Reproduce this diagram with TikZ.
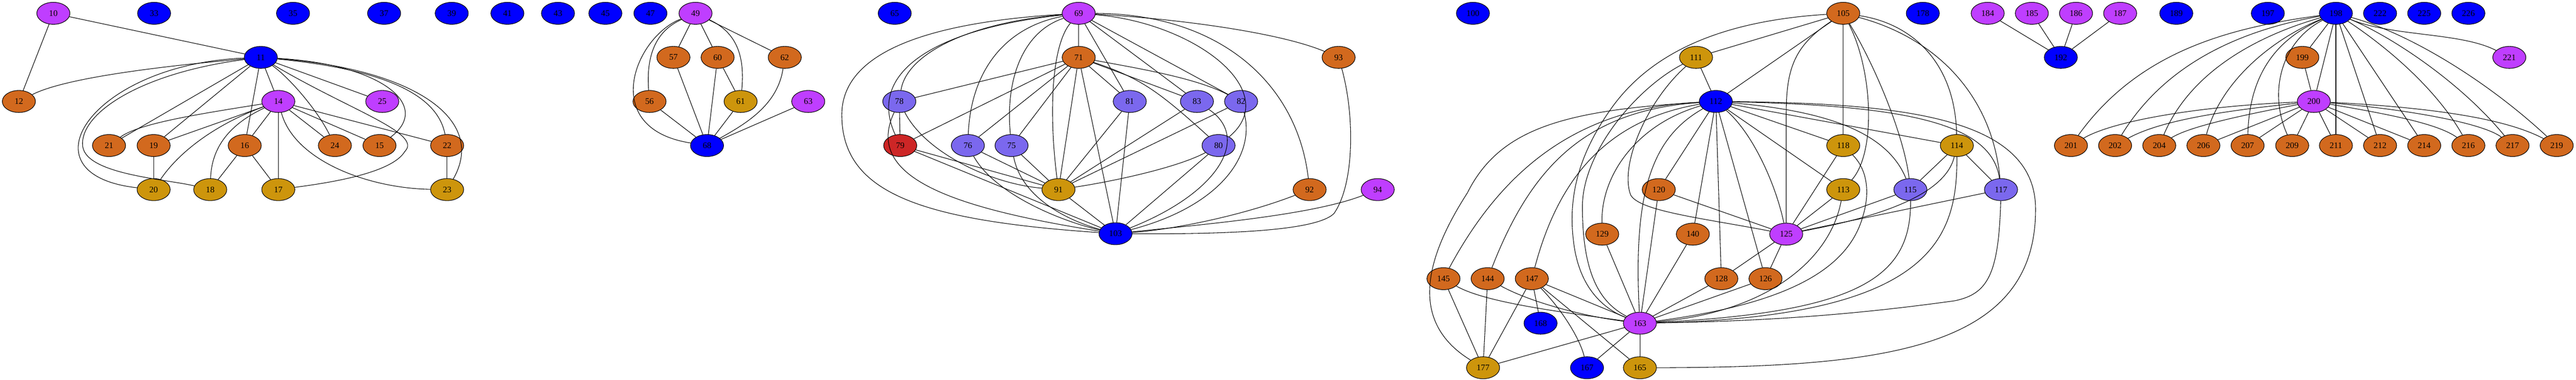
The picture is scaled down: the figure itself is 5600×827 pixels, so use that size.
\documentclass[tikz,border=0pt]{standalone}
\usepackage{fontspec}
\setmainfont{Liberation Serif}
\usetikzlibrary{shapes.geometric}
\definecolor{vpurple}{HTML}{BF3EFF}
\definecolor{vblue}{HTML}{0000FF}
\definecolor{vorange}{HTML}{D2691E}
\definecolor{vgold}{HTML}{CD950C}
\definecolor{vslate}{HTML}{7B68EE}
\definecolor{vred}{HTML}{CD2626}
\tikzset{
  vertex/.style={ellipse, draw, line width=0.9pt, minimum width=54pt,
    minimum height=36pt, inner sep=0pt, font=\fontsize{14}{16}\selectfont},
  pnode/.style={vertex, fill=vpurple},
  bnode/.style={vertex, fill=vblue},
  onode/.style={vertex, fill=vorange},
  gnode/.style={vertex, fill=vgold},
  snode/.style={vertex, fill=vslate},
  rnode/.style={vertex, fill=vred},
  link/.style={line width=0.9pt}
}
\begin{document}
\begin{tikzpicture}[x=0.75pt,y=-0.75pt]
  \useasboundingbox (0,0) rectangle (5600,827);

  % vertices, one colour at a time
  \foreach \n/\x/\y in {33/335/29, 35/637/29, 37/835/29, 39/982/29, 41/1103/29,
      43/1213/29, 45/1316/29, 47/1414/29, 11/567/125, 68/1537/317, 65/1945/29,
      103/2425/509, 100/3202/29, 178/4180/29, 189/4731/29, 197/4930/29,
      198/5078/29, 222/5174/29, 225/5270/29, 226/5366/29, 192/4480/125,
      112/3730/221, 168/3349/704, 167/3450/801}
    \node[bnode] (n\n) at (\x,\y) {\n};
  \foreach \n/\x/\y in {10/116/29, 49/1512/29, 14/605/221, 25/831/221,
      63/1757/221, 69/2345/29, 94/2995/413, 184/4321/29, 185/4417/29,
      186/4513/29, 187/4609/29, 221/5455/125, 200/5030/221, 125/3883/510,
      163/3565/704}
    \node[pnode] (n\n) at (\x,\y) {\n};
  \foreach \n/\x/\y in {12/41/221, 21/237/317, 19/334/317, 16/532/317,
      24/728/317, 15/825/317, 22/972/317, 57/1464/125, 60/1560/125,
      62/1706/125, 56/1412/221, 71/2345/125, 93/2910/125, 92/2847/413,
      105/4007/29, 199/5005/125, 201/4502/317, 202/4598/317, 204/4694/317,
      206/4790/317, 207/4886/317, 209/4983/317, 211/5078/317, 212/5174/317,
      214/5270/317, 216/5366/317, 217/5462/317, 219/5558/317, 120/3606/413,
      129/3483/510, 140/3680/510, 145/3138/607, 144/3234/607, 147/3330/607,
      128/3742/607, 126/3838/607}
    \node[onode] (n\n) at (\x,\y) {\n};
  \foreach \n/\x/\y in {20/334/413, 18/457/413, 17/605/413, 23/972/413,
      61/1610/221, 91/2301/413, 111/3687/125, 118/4007/317, 114/4254/317,
      113/4007/413, 177/3224/801, 165/3565/801}
    \node[gnode] (n\n) at (\x,\y) {\n};
  \foreach \n/\x/\y in {78/1955/221, 81/2456/221, 83/2602/221, 82/2698/221,
      76/2104/317, 75/2199/317, 80/2649/317, 115/4153/413, 117/4350/413}
    \node[snode] (n\n) at (\x,\y) {\n};
  \node[rnode] (n79) at (1957,317) {79};

  % straight links
  \foreach \a/\b in {10/11, 10/12, 11/21, 11/19, 11/16, 11/14, 11/25, 14/19,
      14/16, 14/17, 14/24, 14/15, 14/22, 19/20, 16/18, 16/17, 22/23,
      49/57, 49/60, 49/62, 57/68, 60/68, 60/61, 56/68, 61/68, 63/68,
      69/71, 69/81, 69/83, 69/82, 71/78, 71/79, 71/76, 71/75, 71/91, 71/103,
      71/81, 71/83, 78/79, 79/91, 79/103, 76/91, 75/91, 81/91, 81/103,
      83/91, 82/91, 80/103, 91/103,
      105/111, 105/112, 105/118, 111/112, 112/120, 112/140, 112/128, 112/126,
      112/113, 112/118, 112/114, 118/125, 113/125, 115/125, 117/125,
      114/115, 114/117, 120/125, 120/163, 125/128, 125/126, 128/163, 126/163,
      129/163, 140/163, 147/163, 145/177, 144/177, 147/177, 147/168,
      147/165, 163/177, 163/167, 163/165,
      184/192, 185/192, 186/192, 187/192,
      198/199, 198/200, 198/211, 198/212, 198/214, 199/200, 200/206, 200/207,
      200/209, 200/211, 200/212, 200/214}
    \draw[link] (n\a) -- (n\b);

  % curved links, first group
  \draw[link] (n11) .. controls (400,140) and (150,165) .. (n12);
  \draw[link] (n11) .. controls (200,140) and (40,380) .. (n20);
  \draw[link] (n11) .. controls (300,160) and (170,250) .. (180,320)
    .. controls (190,380) and (360,390) .. (n18);
  \draw[link] (n11) .. controls (760,240) and (920,290) .. (880,330)
    .. controls (850,380) and (700,400) .. (n17);
  \draw[link] (n11) .. controls (830,140) and (940,230) .. (n15);
  \draw[link] (n11) .. controls (820,150) and (950,200) .. (n22);
  \draw[link] (n11) .. controls (900,150) and (1060,260) .. (n23);
  \draw[link] (n11) .. controls (630,170) and (690,240) .. (n24);
  \draw[link] (n14) .. controls (420,250) and (300,270) .. (n21);
  \draw[link] (n14) .. controls (500,270) and (460,320) .. (n18);
  \draw[link] (n14) .. controls (470,270) and (390,330) .. (n20);
  \draw[link] (n14) .. controls (640,350) and (800,410) .. (n23);

  % around 49
  \draw[link] (n49) .. controls (1420,70) and (1405,130) .. (n56);
  \draw[link] (n49) .. controls (1380,80) and (1300,280) .. (n68);
  \draw[link] (n49) .. controls (1600,70) and (1620,120) .. (n61);
  \draw[link] (n62) .. controls (1690,230) and (1620,270) .. (n68);

  % around 69
  \draw[link] (n69) .. controls (2000,50) and (1830,120) .. (1830,250)
    .. controls (1830,420) and (2000,480) .. (n103);
  \draw[link] (n69) .. controls (2050,60) and (1880,150) .. (n79);
  \draw[link] (n69) .. controls (2100,50) and (1970,120) .. (n78);
  \draw[link] (n69) .. controls (2180,60) and (2110,160) .. (n76);
  \draw[link] (n69) .. controls (2220,70) and (2185,180) .. (n75);
  \draw[link] (n69) .. controls (2285,100) and (2280,250) .. (n91);
  \draw[link] (n69) .. controls (2600,50) and (2790,200) .. (n80);
  \draw[link] (n69) .. controls (2650,30) and (2820,180) .. (n92);
  \draw[link] (n69) .. controls (2550,40) and (2780,70) .. (n93);
  \draw[link] (n71) .. controls (2480,170) and (2520,200) .. (n80);
  \draw[link] (n71) .. controls (2480,150) and (2600,170) .. (n82);
  \draw[link] (n78) .. controls (1880,380) and (2050,450) .. (n103);
  \draw[link] (n78) .. controls (2010,330) and (2150,400) .. (n91);
  \draw[link] (n76) .. controls (2160,420) and (2300,480) .. (n103);
  \draw[link] (n75) .. controls (2220,430) and (2320,480) .. (n103);
  \draw[link] (n83) .. controls (2720,300) and (2650,420) .. (n103);
  \draw[link] (n82) .. controls (2730,340) and (2650,450) .. (n103);
  \draw[link] (n80) .. controls (2560,365) and (2420,395) .. (n91);
  \draw[link] (n93) .. controls (2945,250) and (2945,400) .. (2900,465)
    .. controls (2860,505) and (2650,510) .. (n103);
  \draw[link] (n92) .. controls (2700,470) and (2550,500) .. (n103);
  \draw[link] (n94) .. controls (2850,470) and (2600,490) .. (n103);

  % around 105
  \draw[link] (n105) .. controls (3750,45) and (3590,110) .. (3500,240)
    .. controls (3430,340) and (3410,430) .. (3420,520)
    .. controls (3430,620) and (3480,670) .. (n163);
  \draw[link] (n111) .. controls (3560,190) and (3440,330) .. (3440,450)
    .. controls (3440,600) and (3480,660) .. (n163);
  \draw[link] (n111) .. controls (3580,220) and (3520,360) .. (3545,425)
    .. controls (3565,460) and (3700,475) .. (n125);
  \draw[link] (n112) .. controls (3590,300) and (3550,420) .. (n163);
  \draw[link] (n112) .. controls (3400,240) and (3260,280) .. (3190,420)
    .. controls (3100,560) and (3060,700) .. (n177);
  \draw[link] (n112) .. controls (3420,235) and (3260,380) .. (n145);
  \draw[link] (n112) .. controls (3450,240) and (3330,360) .. (n144);
  \draw[link] (n112) .. controls (3500,260) and (3390,380) .. (n147);
  \draw[link] (n112) .. controls (3560,270) and (3480,380) .. (n129);
  \draw[link] (n112) .. controls (3810,290) and (3860,400) .. (n125);
  \draw[link] (n112) .. controls (3950,240) and (4100,280) .. (n115);
  \draw[link] (n112) .. controls (4150,230) and (4330,270) .. (n117);
  \draw[link] (n112) .. controls (4150,225) and (4420,260) .. (4425,450)
    .. controls (4430,760) and (4100,800) .. (n165);
  \draw[link] (n105) .. controls (3900,100) and (3883,150) .. (3883,250) -- (n125);
  \draw[link] (n105) .. controls (4070,150) and (4080,330) .. (n113);
  \draw[link] (n105) .. controls (4080,150) and (4140,300) .. (n115);
  \draw[link] (n105) .. controls (4150,50) and (4250,130) .. (n114);
  \draw[link] (n105) .. controls (4200,80) and (4330,200) .. (n117);
  \draw[link] (n114) .. controls (4230,420) and (4100,470) .. (n125);
  \draw[link] (n114) .. controls (4255,520) and (4200,690) .. (n163);
  \draw[link] (n113) .. controls (3980,560) and (3850,680) .. (n163);
  \draw[link] (n118) .. controls (4060,370) and (4065,420) .. (4050,470)
    .. controls (4020,580) and (3900,660) .. (n163);
  \draw[link] (n115) .. controls (4155,600) and (4050,680) .. (n163);
  \draw[link] (n117) .. controls (4345,600) and (4320,640) .. (4250,655)
    .. controls (4000,690) and (3800,700) .. (n163);
  \draw[link] (n145) .. controls (3230,660) and (3400,680) .. (n163);
  \draw[link] (n144) .. controls (3330,660) and (3450,690) .. (n163);
  \draw[link] (n147) .. controls (3400,680) and (3435,740) .. (n167);

  % around 198
  \draw[link] (n198) .. controls (4850,60) and (4650,110) .. (n201);
  \draw[link] (n198) .. controls (4850,70) and (4700,150) .. (n202);
  \draw[link] (n198) .. controls (4900,80) and (4760,160) .. (n204);
  \draw[link] (n198) .. controls (4950,80) and (4830,170) .. (n206);
  \draw[link] (n198) .. controls (4960,80) and (4890,150) .. (n207);
  \draw[link] (n198) .. controls (4960,90) and (4930,200) .. (n209);
  \draw[link] (n198) .. controls (5200,110) and (5300,200) .. (n216);
  \draw[link] (n198) .. controls (5200,80) and (5350,180) .. (n217);
  \draw[link] (n198) .. controls (5230,70) and (5400,170) .. (n219);
  \draw[link] (n198) .. controls (5200,80) and (5350,70) .. (n221);
  \draw[link] (n200) .. controls (4800,230) and (4600,260) .. (n201);
  \draw[link] (n200) .. controls (4850,240) and (4700,260) .. (n202);
  \draw[link] (n200) .. controls (4880,250) and (4760,275) .. (n204);
  \draw[link] (n200) .. controls (5200,250) and (5300,270) .. (n216);
  \draw[link] (n200) .. controls (5250,240) and (5400,270) .. (n217);
  \draw[link] (n200) .. controls (5300,235) and (5450,260) .. (n219);
\end{tikzpicture}
\end{document}
